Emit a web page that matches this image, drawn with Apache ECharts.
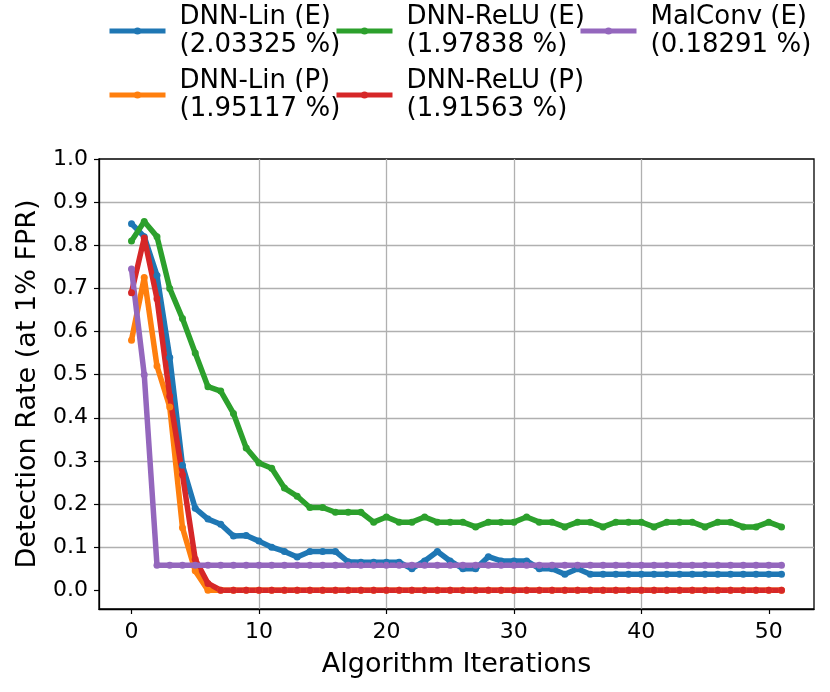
<!DOCTYPE html>
<html>
<head>
<meta charset="utf-8">
<script src="https://cdn.jsdelivr.net/npm/echarts@6/dist/echarts.min.js"></script>
<style>
  html, body { margin: 0; padding: 0; background: #fff; }
  #chart { width: 830px; height: 692px; }
</style>
</head>
<body>
<div id="chart"></div>
<script>
// x = algorithm iteration, 0..51
const iterations = Array.from({ length: 52 }, (_, i) => i);

const seriesNames = ['DNN-Lin (E)', 'DNN-Lin (P)', 'DNN-ReLU (E)', 'DNN-ReLU (P)', 'MalConv (E)'];
const seriesRates = ['2.03325 %', '1.95117 %', '1.97838 %', '1.91563 %', '0.18291 %'];
const seriesColors = ['#1f77b4', '#ff7f0e', '#2ca02c', '#d62728', '#9467bd'];

const dnnLinE = [
  0.85, 0.82, 0.73, 0.54, 0.29, 0.19, 0.165, 0.153, 0.126, 0.127,
  0.114, 0.10, 0.09, 0.077, 0.09, 0.09, 0.09, 0.066, 0.065, 0.065,
  0.065, 0.065, 0.05, 0.068, 0.09, 0.068, 0.05, 0.05, 0.078, 0.068,
  0.068, 0.068, 0.05, 0.05, 0.037, 0.05, 0.037, 0.037, 0.037, 0.037,
  0.037, 0.037, 0.037, 0.037, 0.037, 0.037, 0.037, 0.037, 0.037, 0.037,
  0.037, 0.037
];
const dnnLinP = [
  0.58, 0.725, 0.52, 0.425, 0.145, 0.045, 0.0, 0.0, 0.0, 0.0,
  0.0, 0.0, 0.0, 0.0, 0.0, 0.0, 0.0, 0.0, 0.0, 0.0,
  0.0, 0.0, 0.0, 0.0, 0.0, 0.0, 0.0, 0.0, 0.0, 0.0,
  0.0, 0.0, 0.0, 0.0, 0.0, 0.0, 0.0, 0.0, 0.0, 0.0,
  0.0, 0.0, 0.0, 0.0, 0.0, 0.0, 0.0, 0.0, 0.0, 0.0,
  0.0, 0.0
];
const dnnReluE = [
  0.81, 0.855, 0.82, 0.70, 0.63, 0.55, 0.472, 0.462, 0.41, 0.33,
  0.295, 0.283, 0.237, 0.218, 0.192, 0.192, 0.181, 0.181, 0.181, 0.158,
  0.17, 0.158, 0.158, 0.17, 0.158, 0.158, 0.158, 0.147, 0.158, 0.158,
  0.158, 0.17, 0.158, 0.158, 0.147, 0.158, 0.158, 0.147, 0.158, 0.158,
  0.158, 0.147, 0.158, 0.158, 0.158, 0.147, 0.158, 0.158, 0.147, 0.147,
  0.158, 0.147
];
const dnnReluP = [
  0.69, 0.817, 0.676, 0.45, 0.268, 0.072, 0.016, 0.0, 0.0, 0.0,
  0.0, 0.0, 0.0, 0.0, 0.0, 0.0, 0.0, 0.0, 0.0, 0.0,
  0.0, 0.0, 0.0, 0.0, 0.0, 0.0, 0.0, 0.0, 0.0, 0.0,
  0.0, 0.0, 0.0, 0.0, 0.0, 0.0, 0.0, 0.0, 0.0, 0.0,
  0.0, 0.0, 0.0, 0.0, 0.0, 0.0, 0.0, 0.0, 0.0, 0.0,
  0.0, 0.0
];
const malConvE = [
  0.745, 0.50, 0.058, 0.058, 0.058, 0.058, 0.058, 0.058, 0.058, 0.058,
  0.058, 0.058, 0.058, 0.058, 0.058, 0.058, 0.058, 0.058, 0.058, 0.058,
  0.058, 0.058, 0.058, 0.058, 0.058, 0.058, 0.058, 0.058, 0.058, 0.058,
  0.058, 0.058, 0.058, 0.058, 0.058, 0.058, 0.058, 0.058, 0.058, 0.058,
  0.058, 0.058, 0.058, 0.058, 0.058, 0.058, 0.058, 0.058, 0.058, 0.058,
  0.058, 0.058
];

const xTicks = [0, 10, 20, 30, 40, 50];
const yTicks = [0.0, 0.1, 0.2, 0.3, 0.4, 0.5, 0.6, 0.7, 0.8, 0.9, 1.0];

const allValues = [dnnLinE, dnnLinP, dnnReluE, dnnReluP, malConvE];
const FONT = 'DejaVu Sans';

const legendNames = seriesNames.map((n, i) => n + '\n(' + seriesRates[i] + ')');

const series = allValues.map((vals, i) => ({
  name: legendNames[i],
  type: 'line',
  data: iterations.map((x, j) => [x, vals[j]]),
  symbol: 'circle',
  symbolSize: 7,
  showSymbol: true,
  lineStyle: { width: 5.5, color: seriesColors[i] },
  itemStyle: { color: seriesColors[i] },
  emphasis: { disabled: true },
  animation: false
}));

function legendCol(left, names) {
  return {
    orient: 'vertical',
    left: left,
    top: 3,
    padding: 0,
    itemWidth: 56,
    itemHeight: 9,
    itemGap: 8,
    data: names,
    lineStyle: { width: 5 },
    textStyle: {
      fontFamily: FONT, fontSize: 26, lineHeight: 28, color: '#000',
      padding: [0, 0, 0, 9]
    },
    selectedMode: false
  };
}

const chart = echarts.init(document.getElementById('chart'), null, { renderer: 'canvas' });

chart.setOption({
  animation: false,
  backgroundColor: '#fff',
  legend: [
    legendCol(107, [legendNames[0], legendNames[1]]),
    legendCol(334, [legendNames[2], legendNames[3]]),
    legendCol(578, [legendNames[4]])
  ],
  grid: {
    left: 99, right: 16, top: 159, bottom: 83,
    show: true, borderColor: '#000', borderWidth: 1.3
  },
  xAxis: {
    type: 'value',
    min: -2.55,
    max: 53.55,
    splitNumber: 5,
    name: 'Algorithm Iterations',
    nameLocation: 'middle',
    nameGap: 42,
    nameTextStyle: { fontFamily: FONT, fontSize: 27, color: '#000' },
    axisLine: { show: true, onZero: false, lineStyle: { color: '#000', width: 1.3 } },
    axisTick: { show: true, length: 5, customValues: xTicks, lineStyle: { color: '#000', width: 1.2 } },
    axisLabel: { customValues: xTicks, margin: 12, fontFamily: FONT, fontSize: 22, color: '#000' },
    splitLine: { show: true, showMinLine: false, showMaxLine: false, lineStyle: { color: '#b0b0b0', width: 1.3 } }
  },
  yAxis: {
    type: 'value',
    min: -0.0434,
    max: 1.0,
    splitNumber: 10,
    name: 'Detection Rate (at 1% FPR)',
    nameLocation: 'middle',
    nameGap: 58,
    nameTextStyle: { fontFamily: FONT, fontSize: 27, color: '#000' },
    axisLine: { show: true, onZero: false, lineStyle: { color: '#000', width: 1.3 } },
    axisTick: { show: true, length: 5, customValues: yTicks, lineStyle: { color: '#000', width: 1.2 } },
    axisLabel: {
      customValues: yTicks, margin: 11, fontFamily: FONT, fontSize: 22, color: '#000',
      formatter: v => v.toFixed(1)
    },
    splitLine: { show: true, showMinLine: false, showMaxLine: false, lineStyle: { color: '#b0b0b0', width: 1.3 } }
  },
  series: series
});
</script>
</body>
</html>
